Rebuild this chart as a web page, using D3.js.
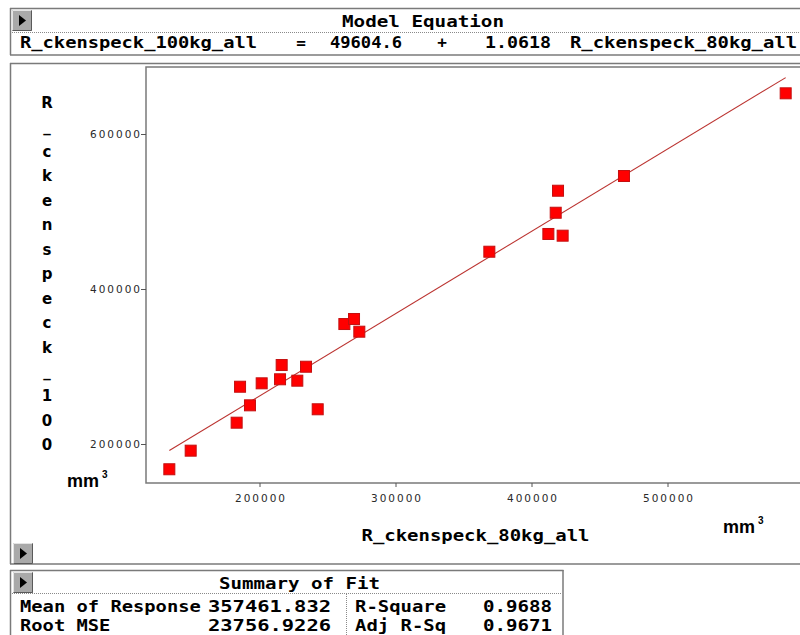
<!DOCTYPE html>
<html>
<head>
<meta charset="utf-8">
<script src="https://cdn.jsdelivr.net/npm/d3@7"></script>
<style>
  html, body { margin: 0; padding: 0; background: #fff; }
  svg { display: block; }
</style>
</head>
<body>
<svg id="chart" width="800" height="635"></svg>
<script>
// Fit of 100 kg volumes against 80 kg volumes (mm^3)
const volume80kg  = [133700, 149400, 183200, 185700, 193000, 201600, 216300, 215100,
                     227800, 234200, 242800, 262400, 269500, 273400, 369000, 412400,
                     417800, 419500, 422900, 468000, 586900];
const volume100kg = [167400, 191400, 227500, 273900, 249900, 278300, 301900, 283500,
                     281700, 299700, 244800, 354800, 361300, 344900, 448100, 471000,
                     498400, 526800, 468800, 545800, 652500];
const xTickValues = [200000, 300000, 400000, 500000];
const yTickValues = [200000, 400000, 600000];
const fitIntercept = 49604.6;
const fitSlope = 1.0618;
const yTitle = "R_ckenspeck_100";
const xTitle = "R_ckenspeck_80kg_all";
const summaryRows = [
  ["Mean of Response", "357461.832", "R-Square", "0.9688"],
  ["Root MSE", "23756.9226", "Adj R-Sq", "0.9671"]
];

const svg = d3.select("#chart");
const MONO = "'DejaVu Sans Mono', 'Liberation Mono', monospace";
const BORDER = "#7a7a7a";

function label(x, y, str, opts = {}) {
  const t = svg.append("text")
    .attr("x", x).attr("y", y)
    .attr("font-family", opts.family || MONO)
    .attr("font-size", opts.size || 16)
    .attr("font-weight", opts.weight || "bold")
    .attr("fill", opts.fill || "#000")
    .attr("text-anchor", opts.anchor || "start")
    .text(str);
  if (opts.len) t.attr("textLength", opts.len).attr("lengthAdjust", "spacingAndGlyphs");
  return t;
}

function button(x, y) {
  const g = svg.append("g").attr("transform", `translate(${x},${y})`);
  g.append("rect").attr("width", 20).attr("height", 21).attr("fill", "#a9a9a9");
  g.append("path").attr("d", "M0.5,20.5 V0.5 H19.5").attr("fill", "none").attr("stroke", "#e4e4e4");
  g.append("path").attr("d", "M0.5,20.5 H19.5 V0.5").attr("fill", "none").attr("stroke", "#5a5a5a");
  g.append("path").attr("d", "M7,5 L14,10.5 L7,16 Z").attr("fill", "#000");
}

function hline(x1, x2, y, dotted) {
  svg.append("line").attr("x1", x1).attr("x2", x2).attr("y1", y).attr("y2", y)
    .attr("stroke", dotted ? "#8a8a8a" : BORDER)
    .attr("stroke-width", dotted ? 1 : 1.5)
    .attr("stroke-dasharray", dotted ? "1,1" : null);
}
function vline(x, y1, y2, dotted) {
  svg.append("line").attr("x1", x).attr("x2", x).attr("y1", y1).attr("y2", y2)
    .attr("stroke", dotted ? "#8a8a8a" : BORDER)
    .attr("stroke-width", dotted ? 1 : 1.5)
    .attr("stroke-dasharray", dotted ? "1,1" : null);
}

// ---- Model Equation panel ----
hline(10, 800, 8.5);
hline(10, 800, 55);
vline(10.5, 8, 55);
button(12, 10);
hline(12, 800, 32.5, true);
label(423, 27, "Model Equation", { anchor: "middle", len: 162 });
label(20, 48, "R_ckenspeck_100kg_all", { len: 237 });
label(301, 48, "=", { anchor: "middle" });
label(330, 48, "49604.6", { len: 72 });
label(442, 48, "+", { anchor: "middle" });
label(485, 48, "1.0618", { len: 66 });
label(570, 48, "R_ckenspeck_80kg_all", { len: 227 });

// ---- Plot panel ----
hline(10, 800, 63.5);
hline(10, 800, 564);
vline(10.5, 63, 564);
button(13, 543);

const x = d3.scaleLinear().domain([200000, 500000]).range([259.5, 667.5]);
const y = d3.scaleLinear().domain([200000, 600000]).range([444, 134]);

const plotLeft = 146, plotTop = 67, plotBottom = 483;
svg.append("path")
  .attr("d", `M800,${plotTop} H${plotLeft} V${plotBottom} H800`)
  .attr("fill", "none").attr("stroke", BORDER).attr("stroke-width", 1.5);

const tickFont = "'DejaVu Sans', 'Liberation Sans', sans-serif";
const xAxis = svg.append("g").attr("transform", `translate(0,${plotBottom})`)
  .call(d3.axisBottom(x).tickValues(xTickValues).tickSize(4).tickPadding(8).tickFormat(d3.format("d")));
const yAxis = svg.append("g").attr("transform", `translate(${plotLeft},0)`)
  .call(d3.axisLeft(y).tickValues(yTickValues).tickSize(5).tickPadding(1).tickFormat(d3.format("d")));
[xAxis, yAxis].forEach(a => {
  a.select(".domain").remove();
  a.selectAll(".tick line").attr("stroke", "#555");
  a.selectAll(".tick text")
    .attr("font-family", tickFont).attr("font-size", 10.5).attr("fill", "#2a2a2a")
    .attr("textLength", 50).attr("lengthAdjust", "spacing");
});

// Fitted line over the observed range
const xExtent = d3.extent(volume80kg);
const fitLine = d3.line().x(d => x(d)).y(d => y(fitIntercept + fitSlope * d));
svg.append("path").datum(xExtent)
  .attr("d", fitLine)
  .attr("fill", "none").attr("stroke", "#bb3330").attr("stroke-width", 1.1);

// Observations
const S = 11;
svg.append("g").selectAll("rect")
  .data(volume80kg.map((v, i) => [v, volume100kg[i]]))
  .join("rect")
  .attr("x", d => x(d[0]) - S / 2)
  .attr("y", d => y(d[1]) - S / 2)
  .attr("width", S).attr("height", S)
  .attr("fill", "#ff0000").attr("stroke", "#c41010").attr("stroke-width", 1);

// Vertical y-axis title, one character per line
const sans = "'Liberation Sans', Arial, sans-serif";
svg.append("g").selectAll("text")
  .data(yTitle.split(""))
  .join("text")
  .attr("x", 47)
  .attr("y", (d, i) => 108 + i * 24.45)
  .attr("text-anchor", "middle")
  .attr("font-family", "'DejaVu Sans', sans-serif")
  .attr("font-weight", "bold")
  .attr("font-size", 15)
  .text(d => d);

// Units
function units(xp, yp) {
  label(xp, yp, "mm", { family: sans, size: 18, weight: "bold" });
  label(xp + 35, yp - 9, "3", { family: sans, size: 10, weight: "bold" });
}
units(67, 487);
units(723, 533);

label(475.5, 541, xTitle, { anchor: "middle", len: 228 });

// ---- Summary of Fit panel ----
hline(10, 563.5, 570.5);
vline(10.5, 570, 635);
vline(563, 570, 635);
button(13, 572);
hline(12, 562, 593.5, true);
vline(346.5, 594, 635, true);
label(299.5, 589, "Summary of Fit", { anchor: "middle", len: 161 });
summaryRows.forEach((r, i) => {
  const yy = 612 + i * 18.5;
  label(20, yy, r[0], { len: r[0].length * 11.3 });
  label(331, yy, r[1], { anchor: "end", len: 123 });
  label(355, yy, r[2], { len: 91 });
  label(552, yy, r[3], { anchor: "end", len: 69 });
});
</script>
</body>
</html>
